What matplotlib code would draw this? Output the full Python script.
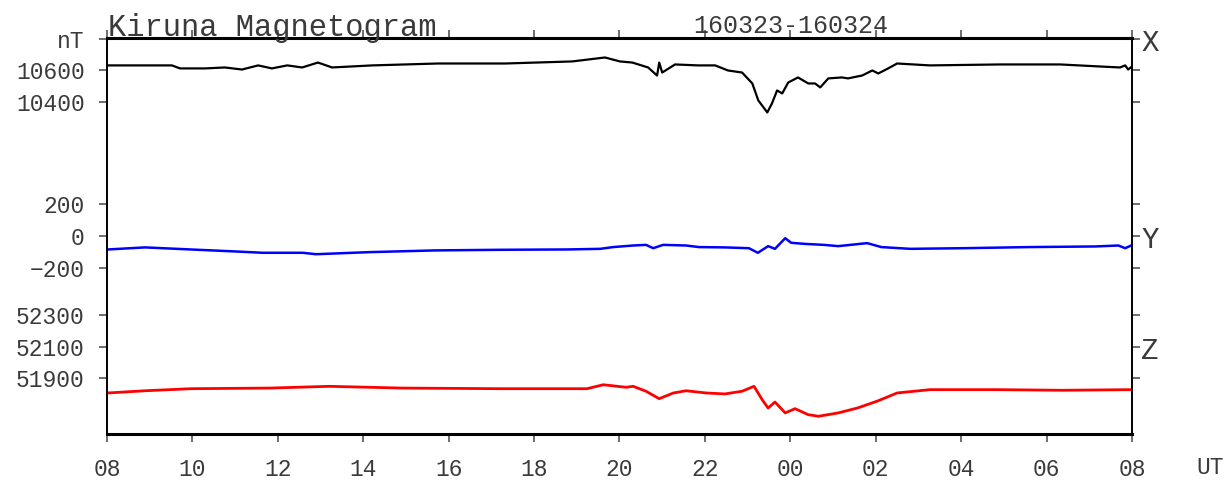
import matplotlib
matplotlib.use("Agg")
import matplotlib.pyplot as plt
import numpy as np

# ---- data (hours since 08 UT on day 1; nT) ----
x_hours = [8.00, 8.89, 9.52, 9.71, 10.30, 10.76, 11.16, 11.54, 11.86, 12.22,
           12.57, 12.94, 13.27, 14.21, 15.75, 17.32, 18.89, 19.66, 20.01, 20.30,
           20.67, 20.88, 20.93, 21.00, 21.30, 21.84, 22.24, 22.54, 22.87, 23.11,
           23.25, 23.46, 23.57, 23.69, 23.81, 23.95, 24.18, 24.42, 24.58, 24.70,
           24.89, 25.21, 25.35, 25.68, 25.92, 26.06, 26.29, 26.50, 27.27, 28.91,
           30.32, 31.26, 31.72, 31.84, 31.91, 32.00]
x_values = [10632, 10632, 10632, 10613, 10613, 10619, 10606, 10632, 10613, 10632,
            10619, 10650, 10619, 10632, 10644, 10644, 10657, 10682, 10657, 10650,
            10619, 10568, 10650, 10587, 10638, 10632, 10632, 10600, 10587, 10518,
            10411, 10335, 10392, 10474, 10455, 10524, 10556, 10518, 10518, 10493,
            10550, 10556, 10550, 10568, 10600, 10581, 10613, 10644, 10632, 10638,
            10638, 10625, 10619, 10632, 10606, 10625]

y_hours = [8.02, 8.89, 9.96, 11.04, 11.65, 12.59, 12.89, 14.13, 15.68, 17.23,
           18.77, 19.55, 19.85, 20.32, 20.62, 20.79, 21.02, 21.56, 21.86, 22.47,
           23.03, 23.24, 23.48, 23.64, 23.88, 24.02, 24.35, 24.79, 25.12, 25.80,
           26.13, 26.81, 28.05, 29.59, 31.14, 31.68, 31.84, 31.98]
y_values = [-84, -71, -84, -97, -105, -105, -114, -101, -90, -86,
            -84, -80, -69, -59, -55, -76, -55, -59, -69, -71,
            -76, -105, -63, -80, -13, -42, -49, -55, -63, -44,
            -69, -80, -76, -69, -65, -59, -76, -59]

z_hours = [8.02, 8.89, 9.96, 11.82, 13.20, 14.91, 17.23, 19.24, 19.62, 20.15,
           20.32, 20.62, 20.93, 21.26, 21.56, 22.03, 22.47, 22.87, 23.15, 23.34,
           23.48, 23.64, 23.88, 24.11, 24.42, 24.66, 25.12, 25.57, 26.03, 26.50,
           27.27, 28.82, 30.37, 31.98]
z_values = [51808, 51822, 51835, 51839, 51850, 51839, 51835, 51835, 51860, 51844,
            51850, 51819, 51772, 51808, 51822, 51808, 51802, 51819, 51850, 51766,
            51713, 51751, 51682, 51709, 51671, 51661, 51682, 51713, 51756, 51808,
            51829, 51829, 51825, 51829]

x_ticks_hours = list(range(8, 33, 2))
x_tick_labels = [f"{h % 24:02d}" for h in x_ticks_hours]

# tick values of each component and their printed labels
x_comp_ticks = [10800, 10600, 10400]
x_comp_labels = ["nT", "10600", "10400"]
y_comp_ticks = [200, 0, -200]
y_comp_labels = ["200", "0", "\u2212200"]
z_comp_ticks = [52300, 52100, 51900]
z_comp_labels = ["52300", "52100", "51900"]

# vertical offsets stacking the three components on one nT scale
Y_RANGE = 2500
X_OFFSET = 10800 - 2495
Y_OFFSET = 0 - 1249
Z_OFFSET = 51900 - 351

plt.rcParams["font.family"] = ["Liberation Mono", "DejaVu Sans Mono"]
text_color = "#3a3a3a"

fig = plt.figure(figsize=(12.25, 4.84), dpi=100)
ax = fig.add_axes([107 / 1225, 50 / 484, 1025 / 1225, 396 / 484])

ax.plot(x_hours, np.array(x_values) - X_OFFSET, color="black", lw=1.6)
ax.plot(y_hours, np.array(y_values) - Y_OFFSET, color="#0000ff", lw=1.8)
ax.plot(z_hours, np.array(z_values) - Z_OFFSET, color="#ff0000", lw=2.0)

ax.set_xlim(8, 32)
ax.set_ylim(0, Y_RANGE)

ax.set_xticks(x_ticks_hours)
ax.set_xticklabels(x_tick_labels)

ytick_pos = ([v - X_OFFSET for v in x_comp_ticks]
             + [v - Y_OFFSET for v in y_comp_ticks]
             + [v - Z_OFFSET for v in z_comp_ticks])
ax.set_yticks(ytick_pos)
ax.set_yticklabels(x_comp_labels + y_comp_labels + z_comp_labels)

ax.tick_params(axis="both", direction="out", length=6, width=1.2,
               colors="#555555", labelcolor=text_color, labelsize=16.5)
ax.tick_params(axis="x", top=True, pad=11)
ax.tick_params(axis="y", right=True, pad=10)

for side in ["left", "right"]:
    ax.spines[side].set_linewidth(1.4)
for side in ["top", "bottom"]:
    ax.spines[side].set_linewidth(2.2)

# component letters beside the right axis
for letter, value, off in [("X", 10800, X_OFFSET), ("Y", 0, Y_OFFSET),
                           ("Z", 52100, Z_OFFSET)]:
    ax.text(1.009, value - off - 25, letter, transform=ax.get_yaxis_transform(),
            ha="left", va="center", fontsize=21, color=text_color)

# time unit label
fig.text(1196 / 1225, 1 - 468 / 484, "UT", ha="left", va="center",
         fontsize=16.5, color=text_color)

# title and date range
fig.text(108 / 1225, 1 - 36 / 484, "Kiruna Magnetogram", ha="left",
         va="baseline", fontsize=22, color=text_color)
ax.text(24, 1 - 33 / 484, "160323-160324",
        transform=matplotlib.transforms.blended_transform_factory(ax.transData, fig.transFigure),
        ha="center", va="baseline", fontsize=18, color=text_color)

fig.savefig("out.png", dpi=100)
